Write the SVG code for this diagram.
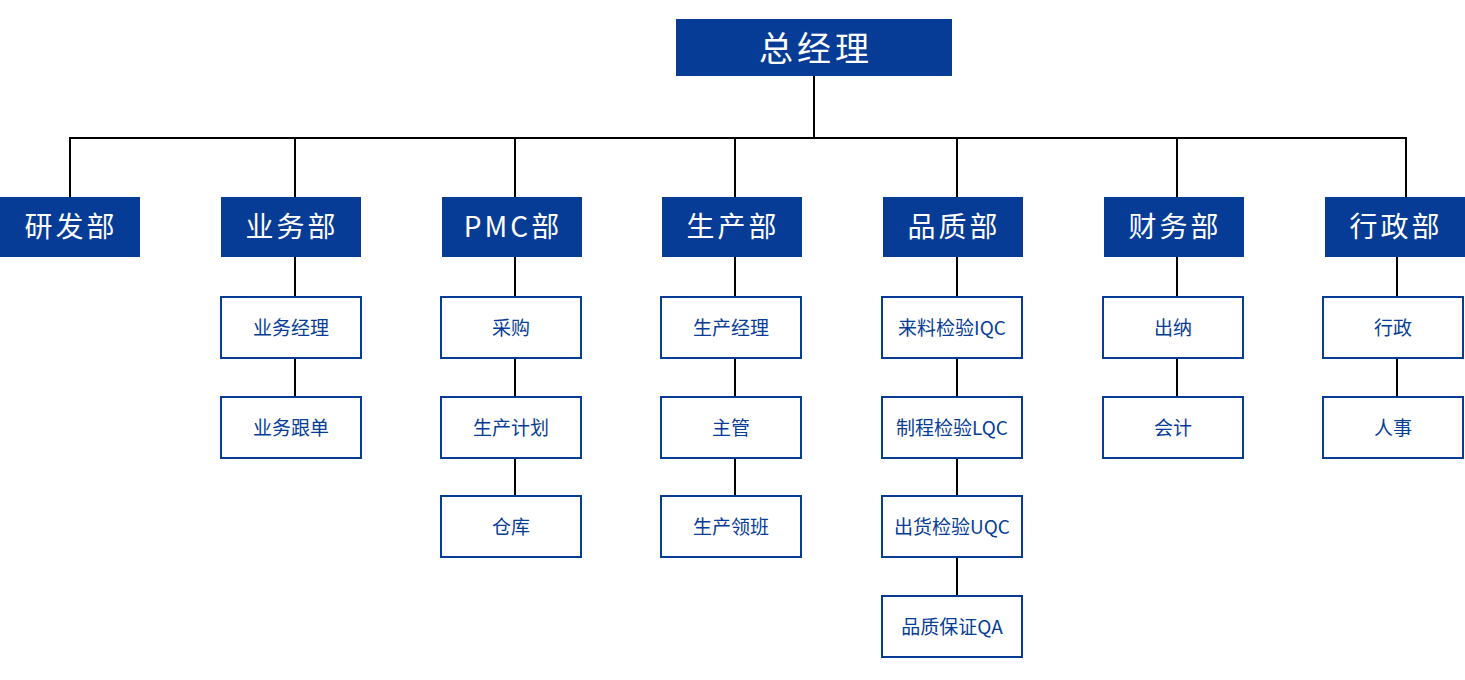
<svg xmlns="http://www.w3.org/2000/svg" width="1465" height="680" viewBox="0 0 1465 680">
<style>
.top{fill:#063c96}
.dept{fill:#063c96}
.sub{fill:#fff;stroke:#063c96;stroke-width:2}
.tt{font-family:"Noto Sans CJK SC","Noto Sans",sans-serif;fill:#fff;text-anchor:middle;dominant-baseline:central}
.t1{font-size:34px;letter-spacing:4px}
.t2{font-size:28px;letter-spacing:3px}
.ts{font-family:"Noto Sans CJK SC","Noto Sans",sans-serif;font-size:19px;fill:#063c96;text-anchor:middle;dominant-baseline:central}
.ln{stroke:#000;stroke-width:2;fill:none}
</style>
<rect width="1465" height="680" fill="#fff"/>
<g id="connectors">
<path class="ln" d="M814 76V138M69 138H1407M70 138V197M295 138V197M515 138V197M735 138V197M957 138V197M1177 138V197M1406 138V197"/>
<path class="ln" d="M295 257V297M295 358V397"/>
<path class="ln" d="M515 257V297M515 358V397M515 458V496"/>
<path class="ln" d="M735 257V297M735 358V397M735 458V496"/>
<path class="ln" d="M957 257V297M957 358V397M957 458V496M957 557V596"/>
<path class="ln" d="M1177 257V297M1177 358V397"/>
<path class="ln" d="M1397 257V297M1397 358V397"/>
</g>
<g id="ceo"><rect class="top" x="676" y="19" width="276" height="57"/><text class="tt t1" x="816" y="46">总经理</text></g>
<g id="d1"><rect class="dept" x="0" y="197" width="140" height="60"/><text class="tt t2" x="71" y="225">研发部</text></g>
<g id="d2"><rect class="dept" x="221" y="197" width="140" height="60"/><text class="tt t2" x="292" y="225">业务部</text></g>
<g id="d3"><rect class="dept" x="442" y="197" width="140" height="60"/><text class="tt t2" x="513" y="225">PMC部</text></g>
<g id="d4"><rect class="dept" x="662" y="197" width="140" height="60"/><text class="tt t2" x="733" y="225">生产部</text></g>
<g id="d5"><rect class="dept" x="883" y="197" width="140" height="60"/><text class="tt t2" x="954" y="225">品质部</text></g>
<g id="d6"><rect class="dept" x="1104" y="197" width="140" height="60"/><text class="tt t2" x="1175" y="225">财务部</text></g>
<g id="d7"><rect class="dept" x="1325" y="197" width="140" height="60"/><text class="tt t2" x="1396" y="225">行政部</text></g>

<g id="s21"><rect class="sub" x="221" y="297" width="140" height="61"/><text class="ts" x="291" y="326">业务经理</text></g>
<g id="s22"><rect class="sub" x="221" y="397" width="140" height="61"/><text class="ts" x="291" y="426">业务跟单</text></g>

<g id="s31"><rect class="sub" x="441" y="297" width="140" height="61"/><text class="ts" x="511" y="326">采购</text></g>
<g id="s32"><rect class="sub" x="441" y="397" width="140" height="61"/><text class="ts" x="511" y="426">生产计划</text></g>
<g id="s33"><rect class="sub" x="441" y="496" width="140" height="61"/><text class="ts" x="511" y="525">仓库</text></g>

<g id="s41"><rect class="sub" x="661" y="297" width="140" height="61"/><text class="ts" x="731" y="326">生产经理</text></g>
<g id="s42"><rect class="sub" x="661" y="397" width="140" height="61"/><text class="ts" x="731" y="426">主管</text></g>
<g id="s43"><rect class="sub" x="661" y="496" width="140" height="61"/><text class="ts" x="731" y="525">生产领班</text></g>

<g id="s51"><rect class="sub" x="882" y="297" width="140" height="61"/><text class="ts" x="952" y="326">来料检验IQC</text></g>
<g id="s52"><rect class="sub" x="882" y="397" width="140" height="61"/><text class="ts" x="952" y="426">制程检验LQC</text></g>
<g id="s53"><rect class="sub" x="882" y="496" width="140" height="61"/><text class="ts" x="952" y="525">出货检验UQC</text></g>
<g id="s54"><rect class="sub" x="882" y="596" width="140" height="61"/><text class="ts" x="952" y="625">品质保证QA</text></g>

<g id="s61"><rect class="sub" x="1103" y="297" width="140" height="61"/><text class="ts" x="1173" y="326">出纳</text></g>
<g id="s62"><rect class="sub" x="1103" y="397" width="140" height="61"/><text class="ts" x="1173" y="426">会计</text></g>

<g id="s71"><rect class="sub" x="1323" y="297" width="140" height="61"/><text class="ts" x="1393" y="326">行政</text></g>
<g id="s72"><rect class="sub" x="1323" y="397" width="140" height="61"/><text class="ts" x="1393" y="426">人事</text></g>
</svg>
